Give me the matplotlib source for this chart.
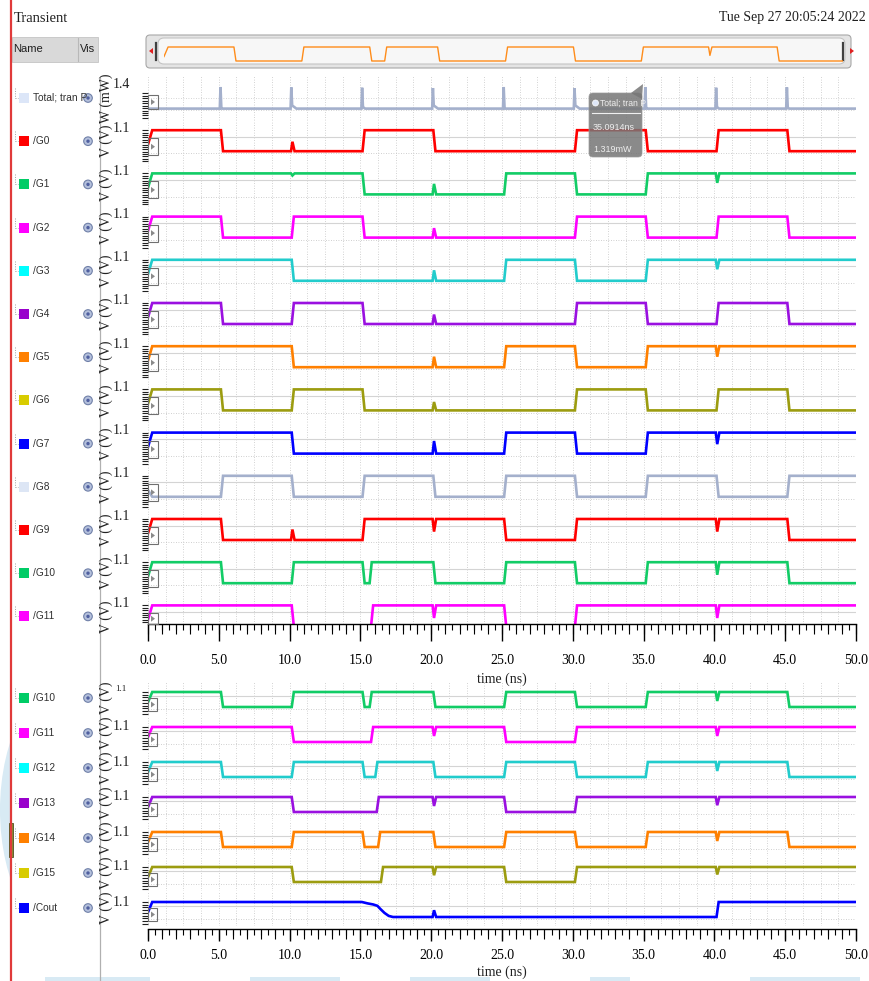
import numpy as np
import matplotlib
matplotlib.use('Agg')
import matplotlib.pyplot as plt
from matplotlib.patches import Rectangle, FancyBboxPatch, Polygon, Circle, Ellipse
from matplotlib.ticker import MultipleLocator, FormatStrFormatter

plt.rcParams['font.family'] = ['Liberation Serif', 'DejaVu Sans']
SANS = ['Liberation Sans', 'DejaVu Sans']

# ---- values ----
t_end = 50.0
vdd = 1.1

top_names = ['Total; tran P', '/G0', '/G1', '/G2', '/G3', '/G4', '/G5', '/G6',
             '/G7', '/G8', '/G9', '/G10', '/G11']
bot_names = ['/G10', '/G11', '/G12', '/G13', '/G14', '/G15', '/Cout']

# total power spikes: time (ns), peak (mW), decay tail (ns)
pwr_t = [5, 10, 15, 20, 25, 30, 35, 40, 45]
pwr_peak = [1.32, 1.30, 1.28, 1.26, 1.32, 1.25, 1.319, 1.28, 1.30]
pwr_tail = [0.05, 0.3, 0.15, 0.3, 0.05, 0.3, 0.05, 0.15, 0.1]
pwr_base = 0.08

# node toggle times (ns) and glitches (ns, depth as fraction of vdd)
g0_edges = [5, 15, 20, 30, 35, 40, 45]
g0_glitch = [(10, 0.45)]
g1_edges = [15, 25, 30, 35]
g1_glitch = [(10, 0.1), (20, 0.5), (40, 0.45)]
g2_edges = [5, 10, 15, 30, 35, 40, 45]
g2_glitch = [(20, 0.45)]
g3_edges = [10, 25, 30, 35]
g3_glitch = [(20, 0.5), (40, 0.45)]
g4_edges = [5, 10, 15, 30, 35, 40, 45]
g4_glitch = [(20, 0.45)]
g5_edges = [10, 25, 30, 35]
g5_glitch = [(20, 0.5), (40, 0.5)]
g6_edges = [5, 10, 15, 30, 35, 40, 45]
g6_glitch = [(20, 0.4)]
g7_edges = [10, 25, 30, 35]
g7_glitch = [(20, 0.6), (40, 0.55)]
g8_edges = [5, 10, 15, 20, 25, 30, 35, 40, 45]
g8_glitch = []
g8_start = 0
g9_edges = [5, 15, 25, 30, 45]
g9_glitch = [(10, 0.5), (20, 0.6), (40, 0.6)]
g10_edges = [5, 10, 15, 15.5, 20, 25, 30, 35, 45]
g10_glitch = [(40, 0.6)]
g11_edges = [10, 15.6, 25, 30]
g11_glitch = [(20, 0.6), (40, 0.6)]
g12_edges = [5, 10, 15, 15.9, 20, 25, 30, 35, 45]
g12_glitch = [(40, 0.6)]
g13_edges = [10, 16.0, 25, 30]
g13_glitch = [(20, 0.6), (40, 0.55)]
g14_edges = [5, 10, 15, 16.1, 20, 25, 30, 35, 45]
g14_glitch = [(40, 0.6)]
g15_edges = [10, 16.3, 25, 30]
g15_glitch = [(20, 0.55), (40, 0.5)]
cout_edges = [40]
cout_glitch = [(20, 0.45)]
cout_fall_t = [15.1, 15.5, 15.9, 16.2, 16.4, 16.7, 17.0, 17.3]
cout_fall_v = [1.1, 1.0, 0.92, 0.82, 0.6, 0.3, 0.08, 0.0]

top_line = ['#a4b0cc', '#ff0000', '#12cc66', '#ff00ff', '#22cccc', '#9a10e0', '#ff8000',
            '#9c9c10', '#0000ff', '#a4b0cc', '#ff0000', '#12cc66', '#ff00ff']
top_box = ['#dce6f8', '#ff0000', '#00cc66', '#ff00ff', '#00ffff', '#9900cc', '#ff8000',
           '#d8cc00', '#0000ff', '#dde6f5', '#ff0000', '#00cc66', '#ff00ff']
bot_line = ['#12cc66', '#ff00ff', '#22cccc', '#9a10e0', '#ff8000', '#9c9c10', '#0000ff']
bot_box = ['#00cc66', '#ff00ff', '#00ffff', '#9900cc', '#ff8000', '#d8cc00', '#0000ff']


def wave(edges, glitch, start=1, ramp=None, tr=0.15, dl=0.15):
    t = [0.0, 0.3]
    v = [0.35, vdd * start]
    lev = start
    ev = [(e, None) for e in edges] + list(glitch)
    if ramp is not None:
        ev.append((ramp[0][0], 'ramp'))
    for te, d in sorted(ev, key=lambda p: p[0]):
        t0 = te + dl
        if d is None:
            t += [t0, t0 + tr]
            v += [vdd * lev, vdd * (1 - lev)]
            lev = 1 - lev
        elif d == 'ramp':
            t += list(ramp[0])
            v += list(ramp[1])
            lev = 1 - lev
        else:
            b = vdd * lev
            p = b + vdd * d * (1 if lev == 0 else -1)
            t += [t0 - 0.05, t0 + 0.05, t0 + 0.2]
            v += [b, p, b]
    t.append(t_end)
    v.append(vdd * lev)
    return t, v


def power_wave():
    t = [0.0]
    v = [pwr_base]
    for tp, pk, tl in zip(pwr_t, pwr_peak, pwr_tail):
        t0 = tp + 0.1
        t += [t0 - 0.03, t0 + 0.02, t0 + 0.08, t0 + 0.08 + tl]
        v += [pwr_base, pk, pwr_base + 0.6 * tl, pwr_base]
    t.append(t_end)
    v.append(pwr_base)
    return t, v


top_waves = [power_wave(),
             wave(g0_edges, g0_glitch), wave(g1_edges, g1_glitch), wave(g2_edges, g2_glitch),
             wave(g3_edges, g3_glitch), wave(g4_edges, g4_glitch), wave(g5_edges, g5_glitch),
             wave(g6_edges, g6_glitch), wave(g7_edges, g7_glitch),
             wave(g8_edges, g8_glitch, start=g8_start), wave(g9_edges, g9_glitch),
             wave(g10_edges, g10_glitch), wave(g11_edges, g11_glitch)]
bot_waves = [wave(g10_edges, g10_glitch), wave(g11_edges, g11_glitch),
             wave(g12_edges, g12_glitch), wave(g13_edges, g13_glitch),
             wave(g14_edges, g14_glitch), wave(g15_edges, g15_glitch),
             wave(cout_edges, cout_glitch, ramp=(cout_fall_t, cout_fall_v))]

# ---- figure in pixel terms ----
W, H = 870, 981
X0, X1 = 148, 856
fig = plt.figure(figsize=(W / 100, H / 100), dpi=100)
fig.patch.set_facecolor('white')


def px_axes(x0, y0, x1, y1, z=1):
    return fig.add_axes([x0 / W, 1 - y1 / H, (x1 - x0) / W, (y1 - y0) / H], zorder=z)


bg = px_axes(0, 0, W, H, z=0)
ov = px_axes(0, 0, W, H, z=5)
for a in (bg, ov):
    a.set_xlim(0, W)
    a.set_ylim(H, 0)
    a.axis('off')


def strip(y0, y1, hi_px, lo_px, vhi, vlo, step, rule_top):
    ax = px_axes(X0, y0, X1, y1, z=2)
    k = (lo_px - hi_px) / (vhi - vlo)
    ytop = vhi + (hi_px - y0) / k
    ybot = vlo - (y1 - lo_px) / k
    ax.set_xlim(0, t_end)
    ax.set_ylim(ybot, ytop)
    ax.patch.set_visible(False)
    for s in ax.spines.values():
        s.set_visible(False)
    ax.set_xticks(np.arange(0, t_end + 0.1, 1.25))
    ax.tick_params(axis='x', length=0, labelbottom=False)
    ax.grid(axis='x', color='#c4c4c4', lw=0.6, ls=(0, (1, 2)))
    ax.set_yticks(np.arange(rule_top, ybot, -step))
    ax.tick_params(axis='y', direction='out', length=4, width=0.8, color='#202020',
                   labelleft=False, pad=0)
    return ax, k


def time_axis(y, major, minor, pad):
    ax = px_axes(X0, y - 1, X1, y, z=3)
    ax.set_xlim(0, t_end)
    ax.set_yticks([])
    ax.patch.set_visible(False)
    for s in ['top', 'left', 'right']:
        ax.spines[s].set_visible(False)
    ax.spines['bottom'].set_linewidth(1.0)
    ax.xaxis.set_major_locator(MultipleLocator(5))
    ax.xaxis.set_minor_locator(MultipleLocator(0.5))
    ax.xaxis.set_major_formatter(FormatStrFormatter('%.1f'))
    ax.tick_params(which='major', length=major * 0.72, width=1.0, pad=pad, labelsize=10)
    ax.tick_params(which='minor', length=minor * 0.72, width=0.8)
    sec = ax.secondary_xaxis('bottom')
    sec.set_xticks(np.arange(0, t_end + 0.1, 1.0))
    sec.tick_params(length=(minor + 4) * 0.72, width=0.8, labelbottom=False)
    sec.spines['bottom'].set_visible(False)
    return ax


def box_icon(x, y, w, h):
    ov.add_patch(Rectangle((x, y), w, h, fill=False, ec='#707070', lw=0.8))
    ov.add_patch(Polygon([(x + 3, y + h / 2 - 3), (x + 3, y + h / 2 + 3), (x + 7, y + h / 2)],
                         closed=True, fc='#8a8a8a', ec='none'))


def name_row(cy, name, color):
    bg.plot([15, 15], [cy - 10, cy], color='#a0a0a0', lw=0.7, ls=(0, (1, 1.5)))
    bg.plot([15, 18], [cy, cy], color='#a0a0a0', lw=0.7, ls=(0, (1, 1.5)))
    bg.add_patch(Rectangle((19, cy - 5), 10, 10, fc=color, ec='none'))
    bg.text(33, cy, name, fontsize=7.3, family=SANS, color='#303030', va='center', ha='left')
    bg.add_patch(Circle((88, cy), 4.3, fc='#b4c0dc', ec='#7080a8', lw=0.8))
    bg.add_patch(Circle((88, cy), 1.7, fc='#5060a0', ec='none'))


# ---- left panel, header, decorations ----
halo = Ellipse((75, 810), 150, 270, fc='#d8eaf4', ec='none')
bg.add_patch(halo)
halo.set_clip_path(Rectangle((0, 0), 11, H, transform=bg.transData))
bg.plot([11, 11], [0, H], color='#e03a3a', lw=1.6)
bg.add_patch(Rectangle((9.5, 823), 4, 34, fc='#8a8a30', ec='#505020', lw=0.6))
bg.add_patch(Rectangle((12, 37), 86, 25, fc='#d9d9d9', ec='#c4c4c4', lw=0.6))
bg.plot([78, 78], [38, 61], color='#b8b8b8', lw=0.8)
bg.text(13, 49.5, 'Name', fontsize=8, family=SANS, color='#202020', va='center')
bg.text(80, 49.5, 'Vis', fontsize=8, family=SANS, color='#202020', va='center')
bg.plot([100, 100], [77, H], color='#b0b0b0', lw=0.9)
bg.text(14, 18, 'Transient', fontsize=10.5, va='center', ha='left', color='#202020')
bg.text(866, 18, 'Tue Sep 27 20:05:24 2022', fontsize=10, va='center', ha='right',
        color='#202020')
for bx0, bx1 in [(45, 150), (250, 340), (410, 490), (590, 630), (750, 860)]:
    bg.add_patch(Rectangle((bx0, 977), bx1 - bx0, 4, fc='#d8eaf4', ec='none'))

# overview scroller
bg.add_patch(FancyBboxPatch((146, 35), 705, 33, boxstyle='round,pad=0,rounding_size=4',
                            fc='#e4e4e4', ec='#a8a8a8', lw=0.8))
bg.add_patch(FancyBboxPatch((158, 38), 687, 26, boxstyle='round,pad=0,rounding_size=6',
                            fc='#f7f7f7', ec='#c4c4c4', lw=0.8))
bg.add_patch(Polygon([(149, 51), (153, 48), (153, 54)], closed=True, fc='#e02020', ec='none'))
bg.add_patch(Polygon([(854, 51), (850, 48), (850, 54)], closed=True, fc='#e02020', ec='none'))
bg.plot([156.5, 156.5], [43, 60], color='#404040', lw=1.6)
bg.plot([843, 843], [43, 60], color='#404040', lw=1.6)
ovw = px_axes(164, 44, 843, 64, z=1)
ovw.set_xlim(0, t_end)
k_ov = (61 - 47) / vdd
ovw.set_ylim(-(64 - 61) / k_ov, vdd + (47 - 44) / k_ov)
ovw.axis('off')
ovw.plot(*bot_waves[4], color='#ff8c1a', lw=1.0)

# ---- top panel ----
top_cy = [98 + 43.2 * i for i in range(len(top_names))]
for i, (cy, name) in enumerate(zip(top_cy, top_names)):
    name_row(cy, name, top_box[i])
    y0, y1 = cy - 21.6, min(cy + 21.6, 624)
    if i == 0:
        ax, k = strip(y0, y1, cy - 12.4, cy + 12, 1.4, 0.0, 0.14, 0.95)
        ax.axhline(0.7, color='#c8c8c8', lw=0.6, ls=(0, (1, 2)))
        ax.axhline(0.0, color='#c8c8c8', lw=0.6, ls=(0, (1, 2)))
        lab, unit, lab_y = '1.4', 'W (mW)', cy - 13
        box_icon(148, cy - 3, 10, 14)
    else:
        ax, k = strip(y0, y1, cy - 11, cy + 10, vdd, 0.0, 0.125, vdd)
        ax.axhline(0.75, color='#d4d4d4', lw=0.8)
        ax.axhline(-0.12, color='#c0c0c0', lw=0.6, ls=(0, (1, 2)))
        lab, unit, lab_y = '1.1', 'V (V)', cy - 13
        box_icon(148, cy - 3, 10, 17 if cy + 14 < 624 else 624 - (cy - 3))
    ax.plot(*top_waves[i], color=top_line[i], lw=1.9, solid_joinstyle='miter')
    bg.text(121, lab_y, lab, fontsize=10, ha='center', va='center', color='#202020')
    bg.text(106, cy, unit, fontsize=10, rotation=90, ha='center', va='center', color='#202020')

time_axis(624, 17, 6, 9)
bg.text(502, 679, 'time (ns)', fontsize=10, ha='center', va='center', color='#202020')

# ---- bottom panel ----
bot_cy = [698 + 35 * i for i in range(len(bot_names))]
for i, (cy, name) in enumerate(zip(bot_cy, bot_names)):
    name_row(cy, name, bot_box[i])
    ax, k = strip(cy - 17.5, cy + 17.5, cy - 6, cy + 9, vdd, 0.0, 0.2, vdd)
    ax.axhline(0.8, color='#d4d4d4', lw=0.8)
    ax.axhline(-0.15, color='#c0c0c0', lw=0.6, ls=(0, (1, 2)))
    ax.plot(*bot_waves[i], color=bot_line[i], lw=1.9, solid_joinstyle='miter')
    box_icon(148, cy + 0, 9, 13)
    if i == 0:
        bg.text(121, cy - 9, '1.1', fontsize=6.5, ha='center', va='center', color='#202020')
    else:
        bg.text(121, cy - 6, '1.1', fontsize=10, ha='center', va='center', color='#202020')
    bg.text(106, cy, 'V (V)', fontsize=10, rotation=90, ha='center', va='center', color='#202020')

time_axis(929, 12, 6, 6)
bg.text(502, 972, 'time (ns)', fontsize=10, ha='center', va='center', color='#202020')

# ---- marker tooltip ----
ov.add_patch(FancyBboxPatch((589, 93), 53, 64, boxstyle='round,pad=0,rounding_size=4',
                            fc='#767676', ec='#9a9a9a', lw=0.6, alpha=0.85))
ov.add_patch(Polygon([(631, 93), (643, 84), (642, 99)], closed=True, fc='#767676',
                     ec='none', alpha=0.85))
ov.add_patch(Circle((595.5, 103), 3, fc='#dde6f8', ec='#ffffff', lw=0.5))
ov.text(600, 103, 'Total; tran P', fontsize=6.2, family=SANS, color='#eeeeee', va='center')
ov.plot([592, 640], [113, 113], color='#f0f0f0', lw=0.8)
ov.text(593, 127, '35.0914ns', fontsize=6.5, family=SANS, color='#eeeeee', va='center')
ov.text(593, 150, '1.319mW', fontsize=6.5, family=SANS, color='#eeeeee', va='center')

fig.savefig('out.png', dpi=100, facecolor='white')
